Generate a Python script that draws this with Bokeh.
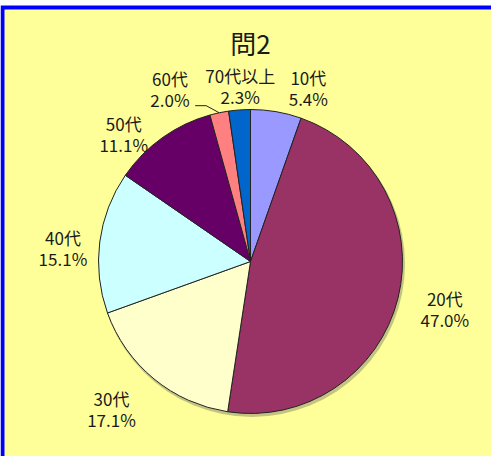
import math
from bokeh.plotting import figure
from bokeh.models import Range1d
from bokeh.core.properties import value
from bokeh.embed import file_html
from bokeh.resources import INLINE

# ---- data ----
title_text = "問2"
categories = ["10代", "20代", "30代", "40代", "50代", "60代", "70代以上"]
percents = [5.4, 47.0, 17.1, 15.1, 11.1, 2.0, 2.3]
colors = ["#9999FF", "#993366", "#FFFFCC", "#CCFFFF", "#660066", "#FF8080", "#0066CC"]

# ---- layout / style ----
R = 152.0
label_angle_nudge = [8.7, -0.4, 3.8, -3.4, -9.3, -13.2, 0.8]   # degrees, clockwise
label_radius = [183, 200, 203, 188, 180, 190, 176]
LINE_GAP = 10.5
FONT = "Noto Sans CJK JP"
TXT = "#1a1a1a"

total = sum(percents)
starts, ends, mids = [], [], []
cum = 0.0
for v in percents:
    a0 = cum / total * 360.0
    cum += v
    a1 = cum / total * 360.0
    starts.append(math.radians(90 - a0))
    ends.append(math.radians(90 - a1))
    mids.append((a0 + a1) / 2)

p = figure(width=491, height=456, output_backend="svg", toolbar_location=None,
           x_range=Range1d(-250, 241), y_range=Range1d(-195, 261),
           min_border_left=0, min_border_top=0, min_border_right=0, min_border_bottom=0)
p.axis.visible = False
p.grid.visible = False
p.outline_line_color = None
p.border_fill_color = "white"
p.background_fill_color = "white"

# chart area: yellow panel with blue frame on left/top
p.quad(left=[-250], right=[241], top=[256], bottom=[-195], fill_color="#0000FF", line_color=None)
p.quad(left=[-246], right=[241], top=[252], bottom=[-195], fill_color="#FFFF99", line_color=None)

# soft shadow
p.circle(x=[1.5], y=[-2.5], radius=R + 1, fill_color="#555555", fill_alpha=0.35, line_color=None)
p.wedge(x=0, y=0, radius=R, start_angle=starts, end_angle=ends, direction="clock",
        fill_color=colors, line_color="#222222", line_width=1)

lx, ly1, ly2, t1, t2 = [], [], [], [], []
for cat, v, m, dn, rr in zip(categories, percents, mids, label_angle_nudge, label_radius):
    a = math.radians(m + dn)
    cx, cy = rr * math.sin(a), rr * math.cos(a)
    lx.append(cx)
    ly1.append(cy + LINE_GAP)
    ly2.append(cy - LINE_GAP)
    t1.append(cat)
    t2.append(f"{v:.1f}%")
for ys, ts in ((ly1, t1), (ly2, t2)):
    p.text(x=lx, y=ys, text=ts, text_align="center", text_baseline="middle",
           text_font=value(FONT), text_font_size="17px", text_color=TXT)

# leader line for the 60代 label
i = categories.index("60代")
am = math.radians(mids[i])
ae = math.radians(mids[i] - 4)
ex, ey = (R + 10) * math.sin(ae), (R + 10) * math.cos(ae)
p.line(x=[R * math.sin(am), ex, ex - 11], y=[R * math.cos(am), ey, ey],
       line_color="#222222", line_width=1)

p.text(x=[0], y=[219], text=[title_text], text_align="center", text_baseline="middle",
       text_font=value(FONT), text_font_size="26px", text_color=TXT)

open("out.html", "w").write(file_html(p, INLINE))
